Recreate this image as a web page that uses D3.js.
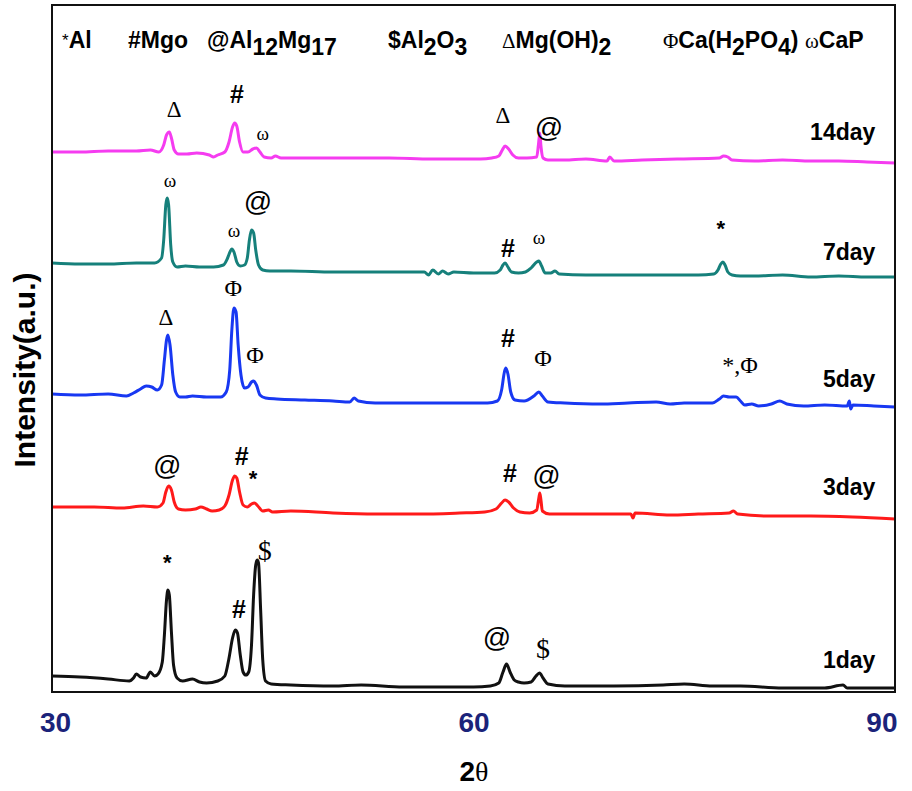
<!DOCTYPE html>
<html>
<head>
<meta charset="utf-8">
<script src="https://cdn.jsdelivr.net/npm/d3@7/dist/d3.min.js"></script>
<style>
  body { margin: 0; background: #fff; }
</style>
</head>
<body>
<div class="grafic"></div>
<script>

// 2θ (deg) , intensity (a.u., curves already stacked)
const day1 = [[30,16],[32,15],[34,13],[35.5,11],[35.8,14],[36,18],[36.3,15],[36.7,14],[37,20],[37.3,16],[37.55,18],[37.85,30],[38,57],[38.15,92],[38.25,102],[38.35,97],[38.5,60],[38.65,27],[38.9,14],[39.3,11],[40,13],[40.5,10],[41,9],[41.8,11],[42.3,16],[42.6,34],[42.85,54],[43.05,62],[43.2,59],[43.4,37],[43.6,20],[43.8,17],[44,20],[44.2,47],[44.35,97],[44.5,127],[44.6,132],[44.7,129],[44.85,82],[45,32],[45.2,11],[45.6,8],[47,7],[50,6],[52,7],[55,5],[58,5],[60,5],[61.2,6],[61.8,9],[62.1,20],[62.35,28],[62.6,20],[62.9,12],[63.2,10],[63.6,9],[64.1,10],[64.45,16],[64.7,19],[64.95,14],[65.3,8],[66.5,6],[70,6],[73.5,7],[75,8],[77,6],[79,6],[82,4],[85,4],[86.3,7],[86.6,4],[90,4]];

const day3 = [[30,185],[33,185],[35,184],[36.5,186],[37.5,185],[37.9,189],[38.1,200],[38.3,206],[38.5,202],[38.7,190],[39,183],[39.5,182],[40.2,183],[40.6,185],[41,183],[41.4,181],[41.9,182],[42.3,186],[42.6,197],[42.85,212],[43,216],[43.15,214],[43.35,200],[43.6,187],[43.9,185],[44.2,188],[44.4,189],[44.65,186],[45,181],[45.4,182],[45.7,180],[47,181],[50,179],[53,178],[56,178],[59,179],[60.8,180],[61.6,183],[62,189],[62.25,192],[62.5,190],[62.85,184],[63.3,180],[64,179],[64.5,182],[64.65,194],[64.72,199],[64.8,192],[64.9,181],[65.4,178],[68,178],[71.2,178],[71.35,174],[71.5,179],[74,177],[76,178],[78.2,179],[78.5,181],[78.8,178],[81,176],[84,176],[87,175],[90,173]];

const day5 = [[30,298],[32,297],[34,298],[35.3,296],[35.8,299],[36.3,303],[36.7,306],[37.1,305],[37.5,302],[37.8,307],[38,332],[38.15,352],[38.25,357],[38.4,347],[38.6,317],[38.8,300],[39.1,295],[39.5,295],[40,296],[41,295],[42,295],[42.4,300],[42.65,322],[42.8,362],[42.95,384],[43.1,380],[43.25,347],[43.45,317],[43.7,304],[43.95,305],[44.2,310],[44.35,311],[44.55,307],[44.8,297],[45.2,294],[46,293],[48,292],[50,291],[51.2,290],[51.5,294],[51.8,291],[53,289],[56,289],[59,289],[61,289],[61.7,291],[62,302],[62.2,320],[62.3,324],[62.45,318],[62.65,300],[62.95,292],[63.6,291],[64.3,296],[64.65,300],[64.9,296],[65.3,290],[66.5,289],[69,288],[71,289],[73,290],[74,288],[75,289],[77,289],[77.5,293],[77.8,296],[78.2,295],[78.7,295],[79,291],[79.3,287],[79.8,288],[80.3,286],[81.2,288],[81.8,291],[82.3,288],[83.5,286],[85,287],[86.6,286],[86.75,291],[86.85,283],[87,287],[88.5,286],[90,285]];

const day7 = [[30,429],[32,428],[34,428],[36,429],[37.3,429],[37.8,434],[37.95,452],[38.1,487],[38.2,494],[38.3,487],[38.45,447],[38.6,430],[38.9,425],[39.5,426],[40.5,425],[41.5,425],[42.2,427],[42.5,434],[42.7,441],[42.8,443],[42.95,440],[43.15,430],[43.4,426],[43.7,427],[43.9,434],[44.05,452],[44.2,462],[44.35,459],[44.5,442],[44.7,427],[45,422],[45.5,421],[47,421],[50,420],[53,420],[56.5,420],[56.8,417],[57.1,422],[57.5,418],[57.8,421],[58.2,418],[58.6,420],[60,419],[61.5,419],[61.9,422],[62.1,427],[62.25,429],[62.45,425],[62.7,420],[63.2,419],[63.7,420],[64.1,424],[64.5,430],[64.65,431],[64.85,426],[65.1,419],[65.5,419],[65.8,421],[66.1,418],[68,417],[70,417],[72,417],[74,417],[76,417],[77.1,418],[77.4,422],[77.6,428],[77.75,430],[77.9,427],[78.1,420],[78.4,417],[79,416],[80,416],[82,417],[84,415],[86,416],[88,415],[90,415]];

const day14 = [[30,540],[32,540],[34,541],[36,541],[37,542],[37.6,540],[37.95,547],[38.15,557],[38.35,560],[38.5,554],[38.7,542],[39,538],[39.6,538],[40.3,539],[41.2,537],[41.5,535],[41.8,537],[42.3,540],[42.6,550],[42.85,565],[43,569],[43.15,566],[43.35,550],[43.6,540],[43.95,540],[44.3,543],[44.55,544],[44.8,540],[45.1,535],[45.6,534],[45.9,536],[46.3,534],[48,534],[51,534],[54,534],[57,533],[59,533],[60.5,533],[61.3,534],[61.8,536],[62.05,542],[62.25,546],[62.5,543],[62.8,537],[63.2,534],[63.8,534],[64.5,535],[64.62,547],[64.72,559],[64.8,546],[64.95,534],[65.3,532],[66.5,532],[68,533],[69.5,531],[69.7,535],[70,531],[72,532],[74.5,533],[77.5,534],[77.8,536],[78.1,535],[78.4,532],[80,531],[82,532],[84,531],[86,531],[88,530],[90,529]];

// phase marks above peaks: [symbol, 2θ, intensity]
const marks1 = [["*",38.2,130],["#",43.3,83],["$",45.15,142],["@",61.67,55],["$",64.95,44]];
const marks3 = [["@",38.2,227],["#",43.5,236],["*",44.3,214],["#",62.6,219],["@",65.2,217]];
const marks5 = [["Δ",38.1,375],["Φ",42.9,404],["Φ",44.45,337],["#",62.45,354],["Φ",64.95,334],["*,Φ",78.97,327]];
const marks7 = [["ω",38.4,512],["ω",42.95,462],["@",44.66,491],["#",62.45,444],["ω",64.66,455],["*",77.6,464]];
const marks14 = [["Δ",38.7,583],["#",43.17,598],["ω",45.0,559],["Δ",62.1,577],["@",65.37,565]];

const seriesNames = ["1day", "3day", "5day", "7day", "14day"];
const seriesLabelY = [24, 197, 305, 432, 552];

const legendSymbols = ["*", "#", "@", "$", "Δ", "Φ", "ω"];
const legendNames = ["Al", "Mgo", "Al_12Mg_17", "Al_2O_3", "Mg(OH)_2", "Ca(H_2PO_4)", "CaP"];

const xTicks = [30, 60, 90];


let w = 912, h = 791;
let padL = 52, padR = 895, padT = 5, padB = 692;

let svg = d3.select(".grafic")
    .append("svg")
    .attr("width", w)
    .attr("height", h)
    .style("font-family", "'Liberation Sans', Arial, sans-serif");

let xScale = d3.scaleLinear()
    .domain([30, 90])
    .range([padL, padR]);

let yScale = d3.scaleLinear()
    .domain([0, 687])
    .range([padB, padT]);

let colors = ["#111111", "#ff1a1a", "#1838f2", "#16807b", "#f53cf0"];
let traces = [day1, day3, day5, day7, day14];
let marks = [marks1, marks3, marks5, marks7, marks14];

let line = d3.line()
    .x(d => xScale(d[0]))
    .y(d => yScale(d[1]))
    .curve(d3.curveMonotoneX);

traces.forEach((t, i) => {
    svg.append("path")
        .datum(t)
        .attr("fill", "none")
        .attr("stroke", colors[i])
        .attr("stroke-width", 3)
        .attr("stroke-linejoin", "round")
        .attr("d", line);
});

// font of each mark symbol
let serif = "'Liberation Serif', 'Times New Roman', serif";
let markStyle = function (s) {
    if (s == "Δ") return { f: serif, s: 23, w: "normal" };
    if (s == "Φ" || s == "*,Φ") return { f: serif, s: 24, w: "normal" };
    if (s == "ω") return { f: serif, s: 19, w: "normal" };
    if (s == "$") return { f: serif, s: 28, w: "normal" };
    if (s == "@") return { f: null, s: 28, w: "normal" };
    if (s == "#") return { f: null, s: 25, w: "bold" };
    return { f: null, s: 22, w: "bold" };
};

marks.forEach((m) => {
    m.forEach((d) => {
        let st = markStyle(d[0]);
        let t = svg.append("text")
            .attr("x", xScale(d[1]))
            .attr("y", yScale(d[2]))
            .attr("text-anchor", "middle")
            .attr("dominant-baseline", "central")
            .attr("font-size", st.s)
            .attr("font-weight", st.w)
            .text(d[0]);
        if (st.f) t.attr("font-family", st.f);
    });
});

// day labels
seriesNames.forEach((n, i) => {
    svg.append("text")
        .attr("x", xScale(88.6))
        .attr("y", yScale(seriesLabelY[i]))
        .attr("text-anchor", "end")
        .attr("font-size", 23)
        .attr("font-weight", "bold")
        .text(n);
});

// legend row
let legendX = [62, 128, 207, 388, 502, 663, 805];
legendSymbols.forEach((s, i) => {
    let t = svg.append("text")
        .attr("x", legendX[i])
        .attr("y", 48)
        .attr("font-size", 23)
        .attr("font-weight", "bold");
    let sym = t.append("tspan").text(s);
    if (s == "*") sym.attr("font-size", 17).attr("font-weight", "normal").attr("dy", -2);
    if (s == "Δ" || s == "Φ" || s == "ω") sym.attr("font-family", serif).attr("font-weight", "normal").attr("font-size", 21);
    let parts = legendNames[i].split(/(_\d+)/).filter(p => p.length);
    let shift = (s == "*") ? 2 : 0;
    parts.forEach((p) => {
        if (p[0] == "_") {
            t.append("tspan").attr("dy", 7 + shift).text(p.slice(1));
            shift = -7;
        } else {
            t.append("tspan").attr("dy", shift).text(p);
            shift = 0;
        }
    });
});

// frame
svg.append("rect")
    .attr("x", padL)
    .attr("y", padT)
    .attr("width", padR - padL)
    .attr("height", padB - padT)
    .attr("fill", "none")
    .attr("stroke", "#111")
    .attr("stroke-width", 2);

// x axis labels
let xAxis = d3.axisBottom(xScale)
    .tickValues(xTicks)
    .tickSize(0)
    .tickPadding(0);

let gx = svg.append("g")
    .attr("transform", "translate(0," + padB + ")")
    .call(xAxis);
gx.select(".domain").remove();
gx.selectAll("text")
    .attr("y", 40)
    .attr("dy", 0)
    .attr("fill", "#1b237a")
    .attr("font-size", 28)
    .attr("font-weight", "bold")
    .attr("font-family", "'Liberation Sans', Arial, sans-serif")
    .attr("text-anchor", d => d == 90 ? "end" : "middle")
    .attr("dx", d => d == 90 ? 2 : (d == 30 ? 3 : 0));

let xl = svg.append("text")
    .attr("x", 474)
    .attr("y", 781)
    .attr("text-anchor", "middle")
    .attr("font-size", 28);
xl.append("tspan").attr("font-weight", "bold").text("2");
xl.append("tspan").attr("font-family", serif).text("θ");

svg.append("text")
    .attr("transform", "translate(35,370) rotate(-90)")
    .attr("text-anchor", "middle")
    .attr("font-size", 30)
    .attr("font-weight", "bold")
    .text("Intensity(a.u.)");

</script>
</body>
</html>
